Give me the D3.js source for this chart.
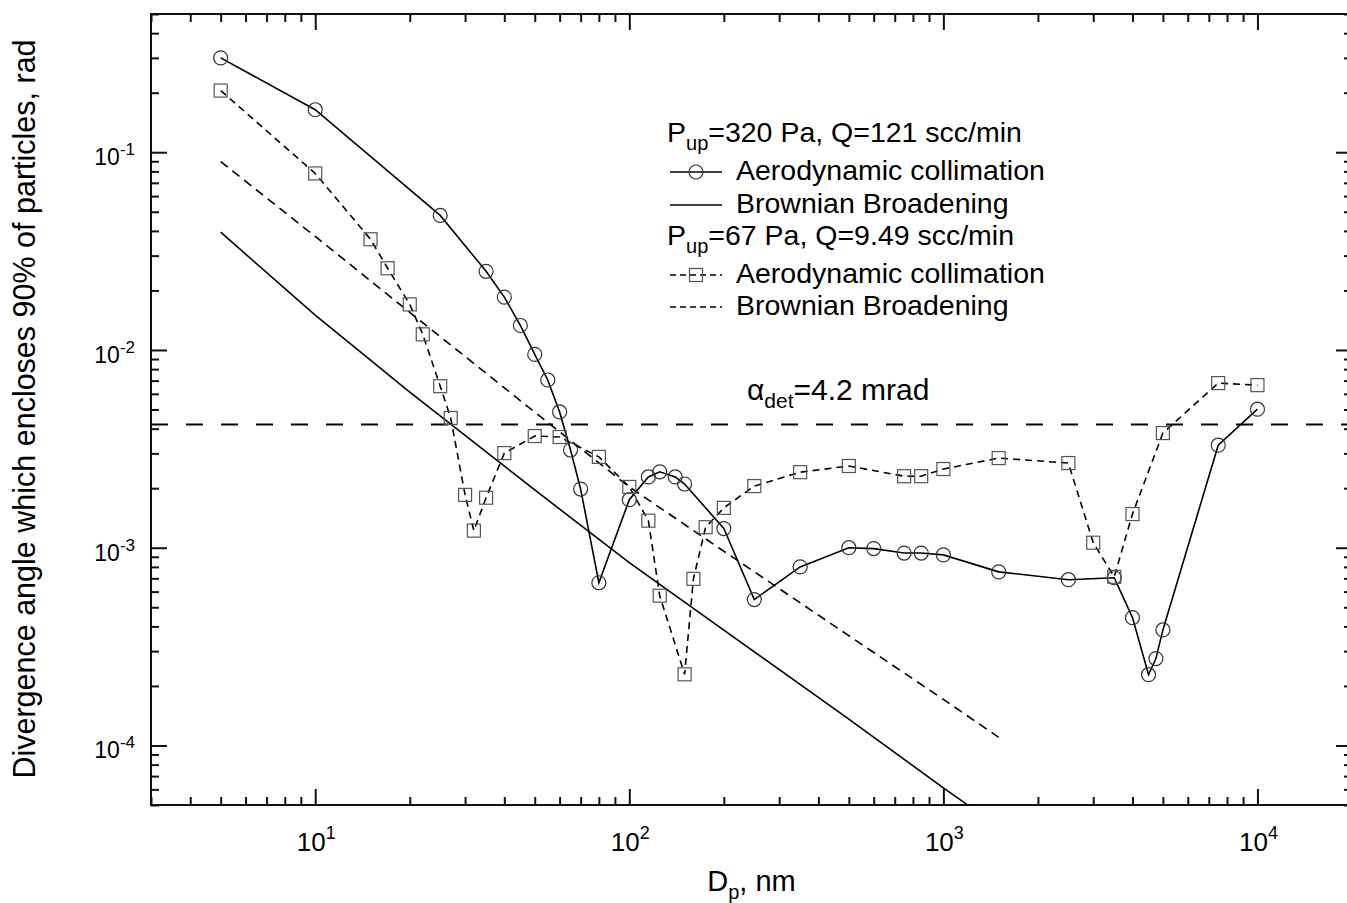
<!DOCTYPE html>
<html>
<head>
<meta charset="utf-8">
<script src="https://cdn.jsdelivr.net/npm/d3@7"></script>
<style>
  body { margin: 0; background: #fff; }
  text { font-family: "Liberation Sans", Arial, sans-serif; fill: #000; }
</style>
</head>
<body>
<div id="chart"></div>
<script>
// particle diameter, nm / divergence angle, rad
const dpCircle = [5, 10, 25, 35, 40, 45, 50, 55, 60, 65, 70, 80,
  100, 115, 125, 140, 150, 200, 250, 350,
  500, 600, 750, 850, 1000, 1500, 2500, 3500,
  4000, 4500, 4750, 5000, 7500, 10000];
const angCircle = [0.30, 0.164, 0.0479, 0.025, 0.0185, 0.0133, 0.0095, 0.00705, 0.00486, 0.00312, 0.00198, 0.000665,
  0.00175, 0.00228, 0.00242, 0.00228, 0.0021, 0.00125, 0.000547, 0.0008,
  0.001, 0.00099, 0.00094, 0.00094, 0.00092, 0.000755, 0.000689, 0.000705,
  0.000443, 0.000228, 0.000275, 0.000384, 0.0033, 0.00502];

const dpSquare = [5, 10, 15, 17, 20, 22, 25, 27, 30, 32,
  35, 40, 50, 60, 80, 100, 115, 125, 150, 160,
  175, 200, 250, 350, 500, 750, 850, 1000, 1500, 2500,
  3000, 3500, 4000, 5000, 7500, 10000];
const angSquare = [0.205, 0.0781, 0.0363, 0.0259, 0.0170, 0.0120, 0.00656, 0.00453, 0.00185, 0.00122,
  0.00179, 0.00301, 0.00367, 0.00363, 0.00288, 0.00203, 0.00137, 0.000572, 0.000229, 0.000696,
  0.00127, 0.00159, 0.00205, 0.00241, 0.00259, 0.0023, 0.0023, 0.0025, 0.00284, 0.00268,
  0.00106, 0.000713, 0.00148, 0.0038, 0.0068, 0.00664];

const dpBrown320 = [5, 10, 20, 50, 100, 200, 500, 1000, 1200];
const angBrown320 = [0.0394, 0.015, 0.00612, 0.00196, 0.00084, 0.000383, 0.000136, 6.1e-5, 4.98e-5];

const dpBrown67 = [5, 10, 20, 50, 100, 200, 500, 1000, 1500];
const angBrown67 = [0.0897, 0.0375, 0.0155, 0.00485, 0.00203, 0.00096, 0.000359, 0.000171, 0.00011];

const alphaDet = 0.0042;
const xMajor = [10, 100, 1000, 10000];
const yMajor = [1e-4, 1e-3, 1e-2, 1e-1];

const margin = { top: 14, right: -5, bottom: 98, left: 151 };
const W = 1347, H = 903;
const width = W - margin.left - margin.right;
const height = H - margin.top - margin.bottom;

const svg = d3.select("#chart").append("svg")
  .attr("width", W)
  .attr("height", H);

const g = svg.append("g")
  .attr("transform", `translate(${margin.left},${margin.top})`);

const x = d3.scaleLog().domain([3, 20000]).range([0, width]);
const y = d3.scaleLog().domain([5e-5, 0.5]).range([height, 0]);

g.append("clipPath").attr("id", "plot-clip")
  .append("rect").attr("width", width).attr("height", height);

const isMajor = d => Math.abs(Math.log10(d) - Math.round(Math.log10(d))) < 1e-6;

// tick marks on all four sides, pointing inward
function styleTicks(sel, horizontal, sign) {
  sel.select(".domain").remove();
  sel.selectAll(".tick line")
    .attr("stroke", "#111")
    .attr("stroke-width", 2)
    .each(function(d) {
      const len = isMajor(d) ? 16 : 8;
      if (horizontal) d3.select(this).attr("y2", sign * len);
      else d3.select(this).attr("x2", sign * len);
    });
}

g.append("g").attr("transform", `translate(0,${height})`)
  .call(d3.axisBottom(x).tickValues(x.ticks()).tickFormat(""))
  .call(s => styleTicks(s, true, -1));
g.append("g")
  .call(d3.axisTop(x).tickValues(x.ticks()).tickFormat(""))
  .call(s => styleTicks(s, true, 1));
g.append("g")
  .call(d3.axisLeft(y).tickValues(y.ticks()).tickFormat(""))
  .call(s => styleTicks(s, false, 1));
g.append("g").attr("transform", `translate(${width},0)`)
  .call(d3.axisRight(y).tickValues(y.ticks()).tickFormat(""))
  .call(s => styleTicks(s, false, -1));

g.append("rect")
  .attr("width", width).attr("height", height)
  .attr("fill", "none").attr("stroke", "#111").attr("stroke-width", 2);

// tick labels
xMajor.forEach(v => {
  const t = g.append("text")
    .attr("x", x(v) + 1)
    .attr("y", height + 46)
    .attr("text-anchor", "middle")
    .style("font-size", "26px");
  t.append("tspan").text("10");
  t.append("tspan").attr("dy", -12).style("font-size", "18px").text(Math.round(Math.log10(v)));
});

yMajor.forEach(v => {
  const t = g.append("text")
    .attr("x", -16)
    .attr("y", y(v) + 13)
    .attr("text-anchor", "end")
    .style("font-size", "23px");
  t.append("tspan").text("10");
  t.append("tspan").attr("dy", -10).style("font-size", "17px").text(Math.round(Math.log10(v)).toString());
});

// axis titles
const xt = g.append("text")
  .attr("x", width / 2)
  .attr("y", height + 86)
  .attr("text-anchor", "middle")
  .style("font-size", "29px");
xt.append("tspan").text("D");
xt.append("tspan").attr("dy", 8).style("font-size", "20px").text("p");
xt.append("tspan").attr("dy", -8).text(", nm");

svg.append("text")
  .attr("transform", "translate(35,409) rotate(-90)")
  .attr("text-anchor", "middle")
  .style("font-size", "30.5px")
  .text("Divergence angle which encloses 90% of particles, rad");

// data
const plot = g.append("g").attr("clip-path", "url(#plot-clip)");

const line = d3.line()
  .x(d => x(d[0]))
  .y(d => y(d[1]));

const zip = (a, b) => a.map((v, i) => [v, b[i]]);

plot.append("path")
  .datum(zip(dpBrown320, angBrown320))
  .attr("fill", "none").attr("stroke", "#000").attr("stroke-width", 1.6)
  .attr("d", line);

plot.append("path")
  .datum(zip(dpBrown67, angBrown67))
  .attr("fill", "none").attr("stroke", "#000").attr("stroke-width", 1.6)
  .attr("stroke-dasharray", "9,6")
  .attr("d", line);

plot.append("path")
  .datum(zip(dpCircle, angCircle))
  .attr("fill", "none").attr("stroke", "#000").attr("stroke-width", 1.6)
  .attr("d", line);

plot.append("path")
  .datum(zip(dpSquare, angSquare))
  .attr("fill", "none").attr("stroke", "#000").attr("stroke-width", 1.6)
  .attr("stroke-dasharray", "7,5")
  .attr("d", line);

plot.append("line")
  .attr("x1", 0).attr("x2", width)
  .attr("y1", y(alphaDet)).attr("y2", y(alphaDet))
  .attr("stroke", "#000").attr("stroke-width", 2)
  .attr("stroke-dasharray", "17,18");

plot.selectAll("circle.pt")
  .data(zip(dpCircle, angCircle))
  .enter().append("circle")
  .attr("class", "pt")
  .attr("cx", d => x(d[0]))
  .attr("cy", d => y(d[1]))
  .attr("r", 7)
  .attr("fill", "none").attr("stroke", "#333").attr("stroke-width", 1.2);

plot.selectAll("rect.pt")
  .data(zip(dpSquare, angSquare))
  .enter().append("rect")
  .attr("class", "pt")
  .attr("x", d => x(d[0]) - 6.5)
  .attr("y", d => y(d[1]) - 6.5)
  .attr("width", 13).attr("height", 13)
  .attr("fill", "none").attr("stroke", "#555").attr("stroke-width", 1.2);

// alpha_det label
const at = svg.append("text")
  .attr("x", 747).attr("y", 400)
  .style("font-size", "30px");
at.append("tspan").text("\u03b1");
at.append("tspan").attr("dy", 8).style("font-size", "21px").text("det");
at.append("tspan").attr("dy", -8).text("=4.2 mrad");

// legend
const legend = svg.append("g").attr("transform", "translate(667,0)");
const lg = 28.5;

function header(yb, txt) {
  const t = legend.append("text").attr("x", 0).attr("y", yb).style("font-size", lg + "px");
  t.append("tspan").text("P");
  t.append("tspan").attr("dy", 8).style("font-size", "20px").text("up");
  t.append("tspan").attr("dy", -8).text(txt);
}

function entry(yc, label, dash, marker) {
  legend.append("line")
    .attr("x1", 3).attr("x2", 55).attr("y1", yc).attr("y2", yc)
    .attr("stroke", "#000").attr("stroke-width", 1.4)
    .attr("stroke-dasharray", dash);
  if (marker === "circle") {
    legend.append("circle").attr("cx", 29).attr("cy", yc).attr("r", 7)
      .attr("fill", "none").attr("stroke", "#333").attr("stroke-width", 1.2);
  } else if (marker === "square") {
    legend.append("rect").attr("x", 22.5).attr("y", yc - 6.5).attr("width", 13).attr("height", 13)
      .attr("fill", "none").attr("stroke", "#555").attr("stroke-width", 1.2);
  }
  legend.append("text").attr("x", 69).attr("y", yc + 8)
    .style("font-size", lg + "px").text(label);
}

header(142, "=320 Pa, Q=121 scc/min");
entry(172, "Aerodynamic collimation", null, "circle");
entry(205, "Brownian Broadening", null, null);
header(245, "=67 Pa, Q=9.49 scc/min");
entry(275, "Aerodynamic collimation", "6,4", "square");
entry(307, "Brownian Broadening", "6,4", null);
</script>
</body>
</html>
